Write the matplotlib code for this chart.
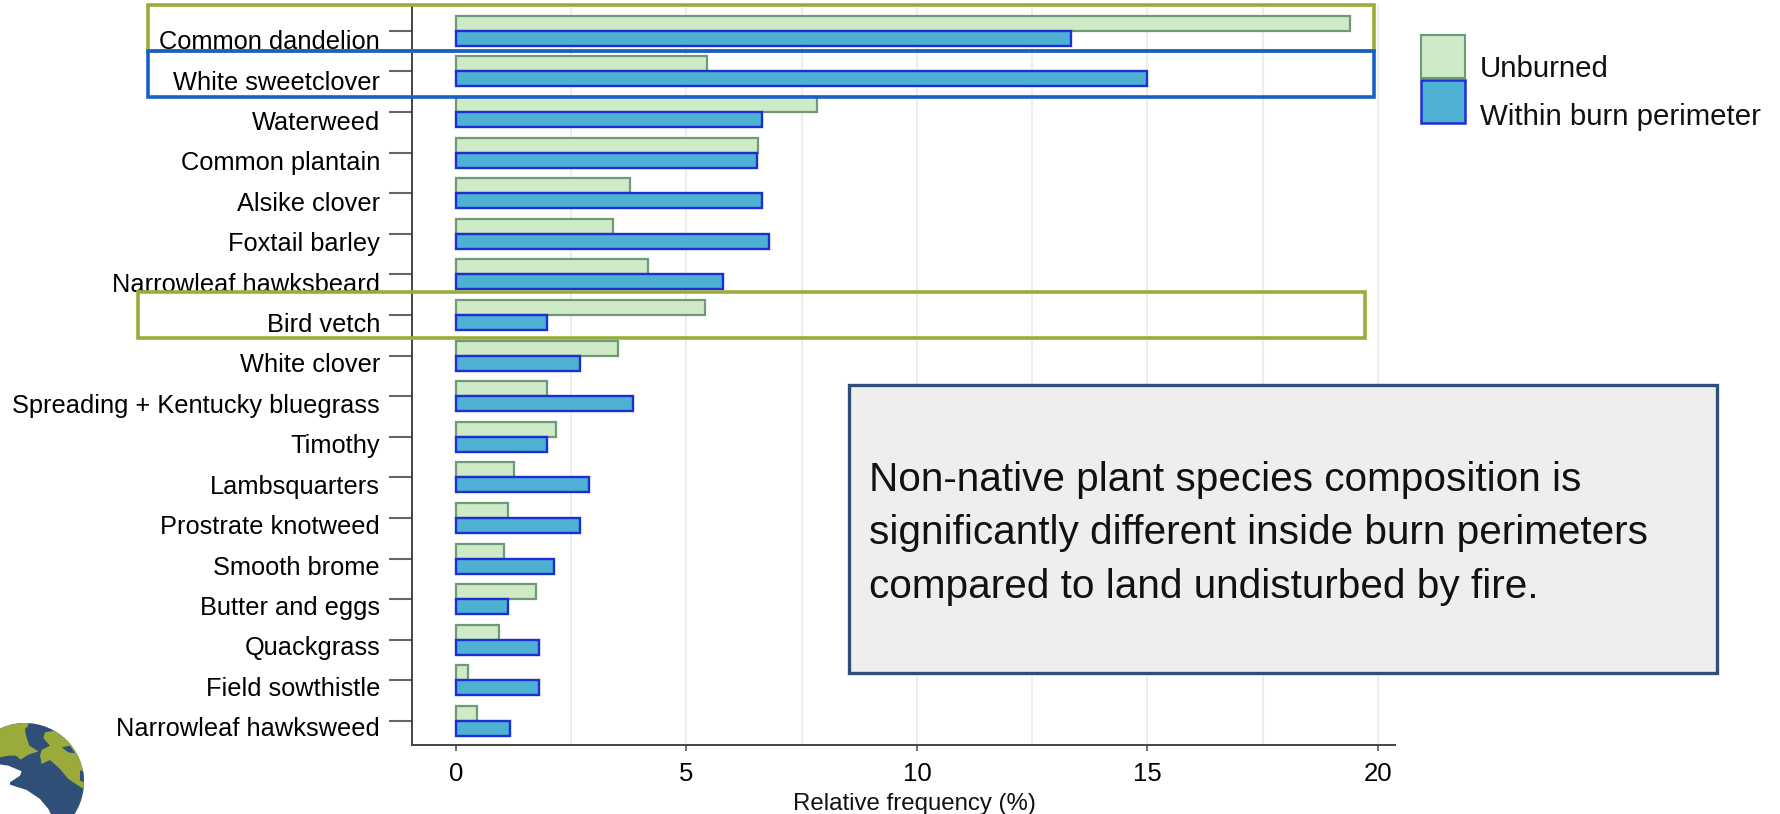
import matplotlib
matplotlib.use("Agg")
import matplotlib.pyplot as plt
from matplotlib.patches import Rectangle, Circle, Polygon
from matplotlib.transforms import ScaledTranslation

plt.rcParams['font.family'] = ['Liberation Sans', 'DejaVu Sans']

species = ["Common dandelion", "White sweetclover", "Waterweed", "Common plantain",
           "Alsike clover", "Foxtail barley", "Narrowleaf hawksbeard", "Bird vetch",
           "White clover", "Spreading + Kentucky bluegrass", "Timothy", "Lambsquarters",
           "Prostrate knotweed", "Smooth brome", "Butter and eggs", "Quackgrass",
           "Field sowthistle", "Narrowleaf hawksweed"]
unburned = [19.4, 5.44, 7.84, 6.56, 3.77, 3.41, 4.16, 5.40, 3.52,
            1.97, 2.16, 1.25, 1.13, 1.05, 1.73, 0.93, 0.25, 0.45]
burned = [13.35, 15.0, 6.64, 6.52, 6.64, 6.80, 5.80, 1.97, 2.68,
          3.85, 1.97, 2.89, 2.68, 2.13, 1.13, 1.80, 1.80, 1.17]
xticks = [0, 5, 10, 15, 20]
gridpos = [2.5, 5, 7.5, 10, 12.5, 15, 17.5, 20]

green_fill = "#cfeac6"
green_edge = "#6f9a78"
blue_fill = "#4eb0d2"
blue_edge = "#1c2fd6"
olive = "#9aab3c"
boxblue = "#1a5fc8"
navy = "#2f4f78"

W, H = 1781, 814
fig = plt.figure(figsize=(W / 100, H / 100), dpi=100)
ax = fig.add_axes([412 / W, 1 - 745 / H, (1395 - 412) / W, 740 / H])

rows = list(range(len(species)))
h = 0.37
ax.barh([r - h / 2 for r in rows], unburned, height=h, color=green_fill,
        edgecolor=green_edge, linewidth=1.6, zorder=3)
ax.barh([r + h / 2 for r in rows], burned, height=h, color=blue_fill,
        edgecolor=blue_edge, linewidth=1.7, zorder=3)

ax.set_xlim(-0.954, 20.37)
ax.set_ylim(17.59, -0.633)
for g in gridpos:
    ax.axvline(g, color="#eeeeee", linewidth=1.5, zorder=1)

ax.spines['top'].set_visible(False)
ax.spines['right'].set_visible(False)
ax.spines['left'].set_color("#444444")
ax.spines['bottom'].set_color("#444444")
ax.spines['left'].set_linewidth(1.4)
ax.spines['bottom'].set_linewidth(1.4)

ax.set_xticks(xticks)
ax.set_yticks(rows)
ax.set_yticklabels(species)
ax.tick_params(axis='x', length=4.5, width=1.2, color="#555555", labelsize=18.5, pad=7.5)
ax.tick_params(axis='y', length=16.5, width=1.5, color="#666666", labelsize=18.3, pad=6.5)

# labels sit under their ticks in the original, a little less so further down
for i, lab in enumerate(ax.get_yticklabels()):
    shift = ScaledTranslation(0, -(9 - 0.2 * i) / 100, fig.dpi_scale_trans)
    lab.set_transform(lab.get_transform() + shift)

# overlay in pixel coordinates for boxes, legend and logo
ov = fig.add_axes([0, 0, 1, 1], facecolor='none')
ov.set_xlim(0, W)
ov.set_ylim(H, 0)
ov.axis('off')

ov.text(914, 804, "Relative frequency (%)", fontsize=17.3, ha='center', va='center', color="#111111")

ov.add_patch(Rectangle((148, 5), 1226, 46, fill=False, edgecolor=olive, linewidth=2.6))
ov.add_patch(Rectangle((138, 292), 1227, 46, fill=False, edgecolor=olive, linewidth=2.6))
ov.add_patch(Rectangle((148, 51), 1226, 46, fill=False, edgecolor=boxblue, linewidth=2.6))

ov.add_patch(Rectangle((849, 385), 868, 288, facecolor="#eeeeee", edgecolor=navy, linewidth=2.4))
ov.text(869, 533.5, "Non-native plant species composition is\n"
        "significantly different inside burn perimeters\n"
        "compared to land undisturbed by fire.",
        fontsize=29.2, ha='left', va='center', linespacing=1.53, color="#111111")

# legend
ov.add_patch(Rectangle((1421, 35), 44, 43, facecolor=green_fill, edgecolor=green_edge, linewidth=1.5))
ov.add_patch(Rectangle((1421, 80), 44, 43, facecolor=blue_fill, edgecolor=blue_edge, linewidth=1.8))
ov.text(1480, 69, "Unburned", fontsize=21.2, va='center', color="#111111")
ov.text(1480, 117, "Within burn perimeter", fontsize=21.2, va='center', color="#111111")

# globe logo
globe = Circle((25, 782), 59, facecolor=navy, edgecolor='none')
ov.add_patch(globe)


def logo_shape(pts, color):
    p = Polygon([(x / 3, 714 + y / 3) for x, y in pts], closed=True, facecolor=color, edgecolor='none')
    ov.add_patch(p)
    p.set_clip_path(globe)


logo_shape([(0, 0), (85, 0), (85, 35), (75, 45), (78, 65), (88, 95), (115, 112), (85, 122),
            (62, 137), (48, 125), (25, 125), (0, 130)], olive)
logo_shape([(120, 125), (125, 108), (150, 95), (130, 72), (135, 55), (165, 50), (190, 70), (260, 100),
            (260, 230), (240, 218), (205, 195), (180, 165), (150, 138), (125, 150)], olive)
logo_shape([(185, 100), (210, 95), (225, 118), (205, 115)], navy)
logo_shape([(240, 170), (252, 170), (252, 205), (240, 200)], navy)
logo_shape([(-10, 150), (25, 155), (65, 172), (60, 185), (30, 205), (30, 212), (80, 228), (120, 255),
            (145, 285), (155, 305), (-10, 305)], "white")

plt.savefig("out.png", dpi=100)
